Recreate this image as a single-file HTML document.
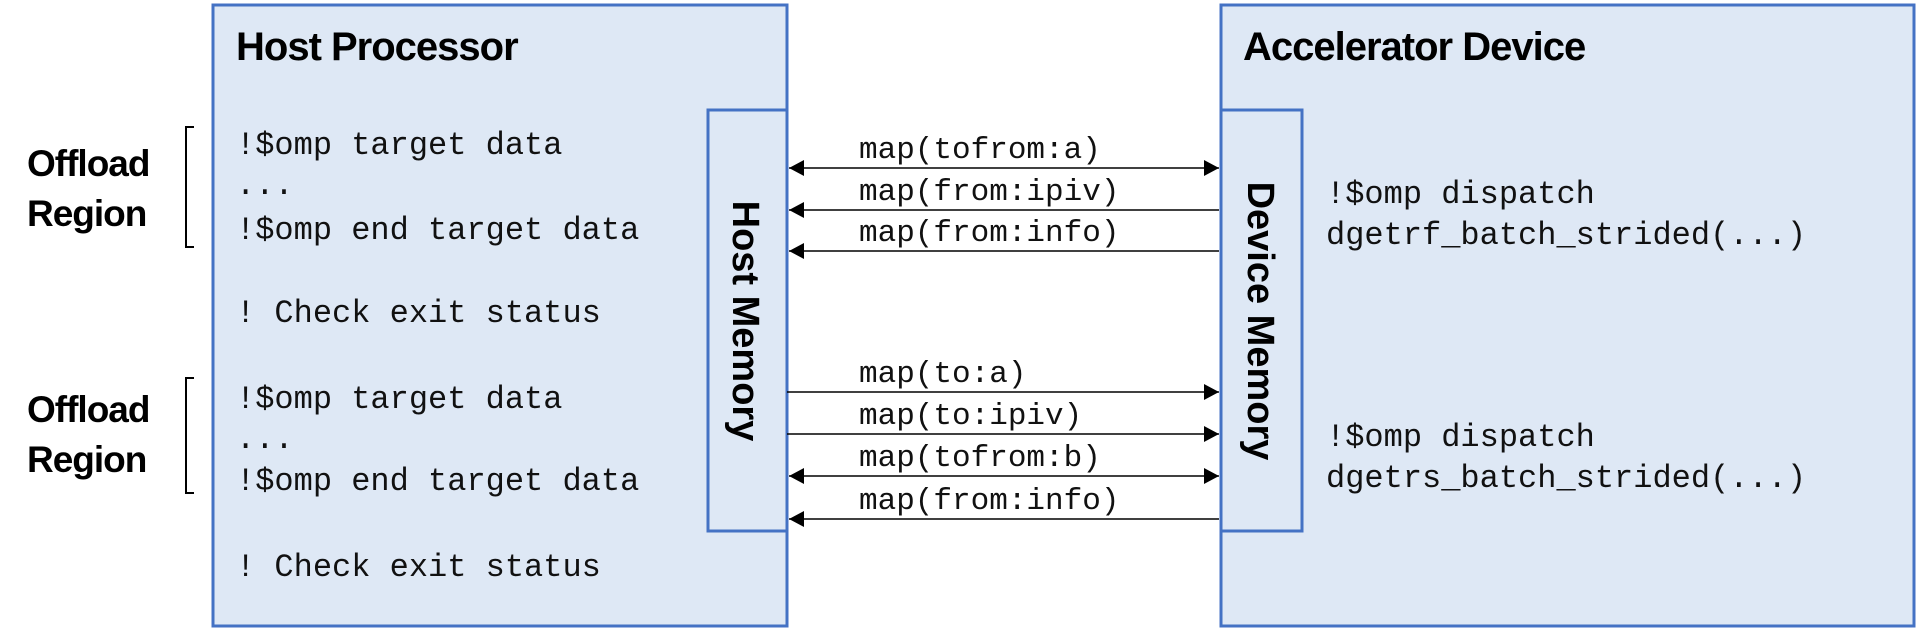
<!DOCTYPE html>
<html><head><meta charset="utf-8"><style>
html,body{margin:0;padding:0;background:#fff;}
svg{display:block;}
.code{font-family:"Liberation Mono","DejaVu Sans Mono",monospace;font-size:32px;fill:#111;}
.lab{font-family:"Liberation Mono","DejaVu Sans Mono",monospace;font-size:31px;fill:#111;}
.h{font-family:"Liberation Sans",sans-serif;font-weight:bold;font-size:40px;fill:#000;letter-spacing:-1px;}
.o{font-family:"Liberation Sans",sans-serif;font-weight:bold;font-size:37px;fill:#000;letter-spacing:-1px;}
.v{font-family:"Liberation Sans",sans-serif;font-weight:bold;font-size:38px;fill:#000;}
</style></head><body>
<svg width="1920" height="630" viewBox="0 0 1920 630" xmlns="http://www.w3.org/2000/svg">
<rect x="213" y="5" width="574" height="621" fill="#dee8f5" stroke="#4472c4" stroke-width="3"/>
<rect x="708" y="110" width="79" height="421" fill="#dee8f5" stroke="#4472c4" stroke-width="3"/>
<rect x="1221" y="5" width="693" height="621" fill="#dee8f5" stroke="#4472c4" stroke-width="3"/>
<rect x="1221" y="110" width="81" height="421" fill="#dee8f5" stroke="#4472c4" stroke-width="3"/>

<text class="h" x="236" y="60">Host Processor</text>
<text class="h" x="1243" y="60">Accelerator Device</text>

<text class="v" transform="translate(733,321) rotate(90)" text-anchor="middle">Host Memory</text>
<text class="v" transform="translate(1248,321) rotate(90)" text-anchor="middle">Device Memory</text>

<text class="o" x="27" y="176">Offload</text>
<text class="o" x="27" y="226">Region</text>
<text class="o" x="27" y="422">Offload</text>
<text class="o" x="27" y="472">Region</text>
<path d="M194,127 H186 V247 H194" fill="none" stroke="#000" stroke-width="2"/>
<path d="M194,378 H186 V493 H194" fill="none" stroke="#000" stroke-width="2"/>

<text class="code" x="236" y="154">!$omp target data</text>
<text class="code" x="236" y="194">...</text>
<text class="code" x="236" y="239">!$omp end target data</text>
<text class="code" x="236" y="322">! Check exit status</text>
<text class="code" x="236" y="408">!$omp target data</text>
<text class="code" x="236" y="448">...</text>
<text class="code" x="236" y="490">!$omp end target data</text>
<text class="code" x="236" y="576">! Check exit status</text>

<text class="code" x="1326" y="203">!$omp dispatch</text>
<text class="code" x="1326" y="244">dgetrf_batch_strided(...)</text>
<text class="code" x="1326" y="446">!$omp dispatch</text>
<text class="code" x="1326" y="487">dgetrs_batch_strided(...)</text>

<g stroke="#000" stroke-width="1.5">
<line x1="789" y1="168" x2="1219" y2="168"/>
<line x1="789" y1="210" x2="1219" y2="210"/>
<line x1="789" y1="251" x2="1219" y2="251"/>
<line x1="787" y1="392" x2="1219" y2="392"/>
<line x1="787" y1="434" x2="1219" y2="434"/>
<line x1="789" y1="476" x2="1219" y2="476"/>
<line x1="789" y1="519" x2="1219" y2="519"/>
</g>
<g fill="#000">
<polygon points="789,168 804,160 804,176"/>
<polygon points="1219,168 1204,160 1204,176"/>
<polygon points="789,210 804,202 804,218"/>
<polygon points="789,251 804,243 804,259"/>
<polygon points="1219,392 1204,384 1204,400"/>
<polygon points="1219,434 1204,426 1204,442"/>
<polygon points="789,476 804,468 804,484"/>
<polygon points="1219,476 1204,468 1204,484"/>
<polygon points="789,519 804,511 804,527"/>
</g>
<text class="lab" x="859" y="158">map(tofrom:a)</text>
<text class="lab" x="859" y="200">map(from:ipiv)</text>
<text class="lab" x="859" y="241">map(from:info)</text>
<text class="lab" x="859" y="382">map(to:a)</text>
<text class="lab" x="859" y="424">map(to:ipiv)</text>
<text class="lab" x="859" y="466">map(tofrom:b)</text>
<text class="lab" x="859" y="509">map(from:info)</text>
</svg>
</body></html>
